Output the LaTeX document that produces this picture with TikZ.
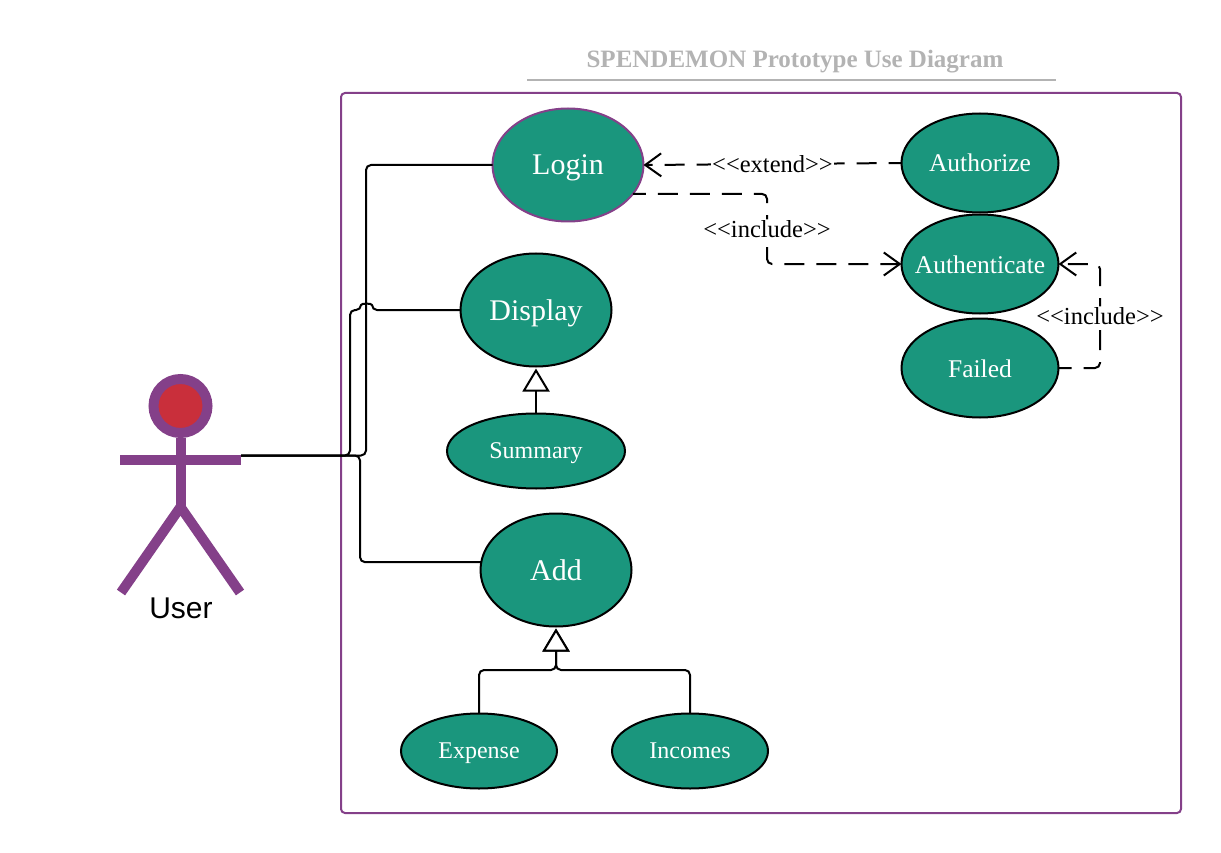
\documentclass[tikz,border=0pt]{standalone}
\usepackage{fontspec}
\setmainfont{Liberation Serif}
\newfontfamily\actorfont{Liberation Sans}
\usetikzlibrary{arrows.meta, positioning, shapes.geometric}

\definecolor{caseteal}{HTML}{1A967D}
\definecolor{framepurple}{HTML}{844089}
\definecolor{headred}{HTML}{C92F3B}
\definecolor{titlegray}{HTML}{B3B3B3}

\newcommand{\fsz}[1]{\fontsize{#1}{#1}\selectfont}

\tikzset{
    usecase/.style = {ellipse, draw=black, fill=caseteal, text=white,
        line width=2pt, inner sep=0pt, outer sep=0pt},
    bigcase/.style = {usecase, minimum width=151pt, minimum height=113pt, font=\fsz{30},
        text height=22pt, text depth=2pt},
    subcase/.style = {usecase, minimum width=156pt, minimum height=75pt, font=\fsz{24},
        text height=16pt, text depth=1pt},
    sidecase/.style = {usecase, minimum width=157pt, minimum height=99pt, font=\fsz{25.5},
        inner xsep=-14pt, text height=19pt, text depth=1pt},
    assoc/.style = {line width=2pt, rounded corners=5pt},
    dep/.style = {line width=2pt, rounded corners=5pt, dash pattern=on 20pt off 12pt, dash phase=7pt,
        -{Straight Barb[length=16pt, width=23pt]}},
    gen/.style = {line width=2pt, rounded corners=5pt, shorten >=2pt,
        -{Triangle[open, fill=white, length=23pt, width=27pt]}},
    tag/.style = {fill=white, inner sep=1pt, text=black, font=\fsz{24.5}},
    limb/.style = {draw=framepurple, line width=10pt}
}

\begin{document}
\begin{tikzpicture} [x=1pt, y=-1pt,
            node distance = 100pt,
            on grid]

        \useasboundingbox (0,0) rectangle (1221,853);

        % Title
        \node (title) at (795,62) [text=titlegray, font=\fsz{25}\bfseries] {SPENDEMON Prototype Use Diagram};
        \coordinate (rulea) at (527,80);
        \coordinate (ruleb) at (1056,80);
        \draw [titlegray, line width=1.5pt] (rulea) -- (ruleb);

        % System frame
        \coordinate (framea) at (341,93);
        \coordinate (frameb) at (1181,813);
        \draw [framepurple, line width=2pt, rounded corners=4pt] (framea) rectangle (frameb);

        % Login
        \node (login) at (568,165) [bigcase, draw=framepurple] {Login};

        % Display
        \node (display) [bigcase,
            below left = 145pt and 32pt of login] {Display};

        % Summary
        \node (summary) [subcase, minimum width=178pt,
            below = 141pt of display] {Summary};

        % Add
        \node (add) [bigcase,
            below right = 119pt and 20pt of summary] {Add};

        % Expense
        \node (expense) [subcase,
            below left = 181pt and 77pt of add] {Expense};

        % Incomes
        \node (incomes) [subcase,
            below right = 181pt and 134pt of add] {Incomes};

        % Authorize
        \node (authorize) [sidecase,
            above right = 2pt and 412pt of login] {Authorize};

        % Authenticate
        \node (authenticate) [sidecase,
            below = 101pt of authorize] {Authenticate};

        % Failed
        \node (failed) [sidecase,
            below = 104pt of authenticate] {Failed};

        % Actor
        \node (head) at (180.5,406) [circle, draw=framepurple, fill=headred, line width=10pt,
            minimum size=54pt, inner sep=0pt] {};
        \coordinate (hip) at (180.5,507);
        \coordinate (arma) at (120,459.5);
        \coordinate (armb) at (241,459.5);
        \coordinate (foota) at (121,592.5);
        \coordinate (footb) at (240,592.5);
        \draw [limb] (head.south) -- (hip);
        \draw [limb] (arma) -- (armb);
        \draw [limb, line join=round] (foota) -- (hip) -- (footb);
        \node (user) at (181,608) [font=\actorfont\fsz{30}] {User};

        % Helper points
        \coordinate (hand) at (241,455.5);
        \coordinate (jumpa) at (361,310);
        \coordinate (jumpb) at (372,310);
        \coordinate (stema) at (350,455.5);
        \coordinate (forka) at (556,670);
        \coordinate (gatea) at (767,229);
        \coordinate (gateb) at (1100,316);

        % Associations
        \draw [assoc] (hand) -| (366,300) |- (login.west);
        \draw [assoc] (hand) -- (stema) |- (jumpa) to [out=90, in=90, looseness=1.6] (jumpb) -- (display.west);
        \draw [assoc] (hand) -| (360,500) |- (add.174);

        % Generalisations
        \draw [gen] (summary.north) -- (display.south);
        \draw [gen] (expense.north) |- (forka) -- (add.south);
        \draw [gen] (incomes.north) |- (forka) -- (add.south);

        % Dependencies
        \draw [dep] (authorize.west) -- node [tag, pos=0.5] {<{}<extend>{}>} (login.east);
        \draw [dep] (login.-24) -| (gatea) node [tag] {<{}<include>{}>} |- (authenticate.west);
        \draw [dep] (failed.east) -| (gateb) node [tag] {<{}<include>{}>} |- (authenticate.east);

\end{tikzpicture}
\end{document}
